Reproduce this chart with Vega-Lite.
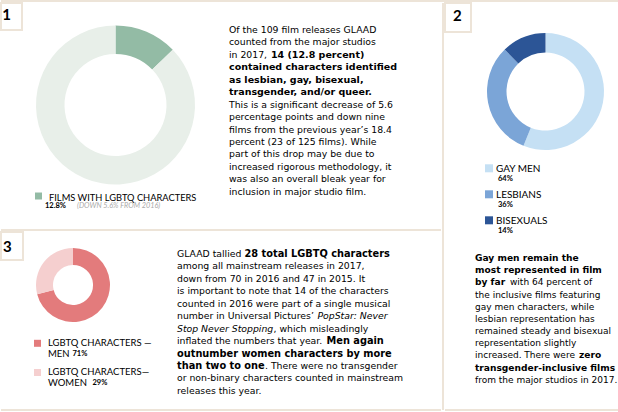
{
  "$schema": "https://vega.github.io/schema/vega-lite/v6.json",
  "padding": 0,
  "background": "white",
  "config": {
    "view": {"stroke": null},
    "concat": {"spacing": 0},
    "style": {
      "tn": {"align": "left", "baseline": "middle", "font": "DejaVu Sans", "fontSize": 9.3, "fill": "#4d4d4d"},
      "tb": {"align": "left", "baseline": "middle", "font": "DejaVu Sans", "fontSize": 9.5, "fontWeight": "bold", "fill": "#161616"},
      "ti": {"align": "left", "baseline": "middle", "font": "DejaVu Sans", "fontSize": 9.3, "fontStyle": "italic", "fill": "#4d4d4d"},
      "lg": {"align": "left", "baseline": "middle", "font": "Lato", "fontSize": 9.3, "fill": "#555555"},
      "lp": {"align": "left", "baseline": "middle", "font": "Lato", "fontSize": 7.5, "fontWeight": "bold", "fill": "#333333"},
      "num": {"align": "center", "baseline": "middle", "font": "Lato", "fontSize": 15, "fontWeight": "bold", "fill": "#8cb59e"}
    }
  },
  "datasets": {
    "d1": [
      {"cat": "FILMS WITH LGBTQ CHARACTERS", "pct": 12.8, "rank": 1, "pctLabel": "12.8%", "note": "(DOWN 5.6% FROM 2016)"},
      {"cat": "OTHER FILMS", "pct": 87.2, "rank": 2, "pctLabel": "87.2%", "note": ""}
    ],
    "d2": [
      {"cat": "GAY MEN", "pct": 64, "rank": 1, "pctLabel": "64%"},
      {"cat": "LESBIANS", "pct": 36, "rank": 2, "pctLabel": "36%"},
      {"cat": "BISEXUALS", "pct": 14, "rank": 3, "pctLabel": "14%"}
    ],
    "d3": [
      {"cat": "LGBTQ CHARACTERS — MEN", "head": "LGBTQ CHARACTERS —", "sub": "MEN", "pct": 71, "rank": 1, "pctLabel": "71%"},
      {"cat": "LGBTQ CHARACTERS — WOMEN", "head": "LGBTQ CHARACTERS—", "sub": "WOMEN", "pct": 29, "rank": 2, "pctLabel": "29%"}
    ],
    "t1": [
      {"ln": 1, "cont": 0, "sty": "n", "txt": "Of the 109 film releases GLAAD"},
      {"ln": 2, "cont": 0, "sty": "n", "txt": "counted from the major studios"},
      {"ln": 3, "cont": 0, "sty": "n", "txt": "in 2017,"},
      {"ln": 3, "cont": 1, "sty": "b", "txt": "14 (12.8 percent)"},
      {"ln": 4, "cont": 0, "sty": "b", "txt": "contained characters identified"},
      {"ln": 5, "cont": 0, "sty": "b", "txt": "as lesbian, gay, bisexual,"},
      {"ln": 6, "cont": 0, "sty": "b", "txt": "transgender, and/or queer."},
      {"ln": 7, "cont": 0, "sty": "n", "txt": "This is a significant decrease of 5.6"},
      {"ln": 8, "cont": 0, "sty": "n", "txt": "percentage points and down nine"},
      {"ln": 9, "cont": 0, "sty": "n", "txt": "films from the previous year’s 18.4"},
      {"ln": 10, "cont": 0, "sty": "n", "txt": "percent (23 of 125 films). While"},
      {"ln": 11, "cont": 0, "sty": "n", "txt": "part of this drop may be due to"},
      {"ln": 12, "cont": 0, "sty": "n", "txt": "increased rigorous methodology, it"},
      {"ln": 13, "cont": 0, "sty": "n", "txt": "was also an overall bleak year for"},
      {"ln": 14, "cont": 0, "sty": "n", "txt": "inclusion in major studio film."}
    ],
    "t3": [
      {"ln": 1, "cont": 0, "sty": "n", "txt": "GLAAD tallied"},
      {"ln": 1, "cont": 1, "sty": "b", "txt": "28 total LGBTQ characters"},
      {"ln": 2, "cont": 0, "sty": "n", "txt": "among all mainstream releases in 2017,"},
      {"ln": 3, "cont": 0, "sty": "n", "txt": "down from 70 in 2016 and 47 in 2015. It"},
      {"ln": 4, "cont": 0, "sty": "n", "txt": "is important to note that 14 of the characters"},
      {"ln": 5, "cont": 0, "sty": "n", "txt": "counted in 2016 were part of a single musical"},
      {"ln": 6, "cont": 0, "sty": "n", "txt": "number in Universal Pictures’"},
      {"ln": 6, "cont": 2, "sty": "i", "txt": "PopStar: Never"},
      {"ln": 7, "cont": 0, "sty": "i", "txt": "Stop Never Stopping"},
      {"ln": 7, "cont": 3, "sty": "n", "txt": ", which misleadingly"},
      {"ln": 8, "cont": 0, "sty": "n", "txt": "inflated the numbers that year."},
      {"ln": 8, "cont": 4, "sty": "b", "txt": "Men again"},
      {"ln": 9, "cont": 0, "sty": "b", "txt": "outnumber women characters by more"},
      {"ln": 10, "cont": 0, "sty": "b", "txt": "than two to one"},
      {"ln": 10, "cont": 5, "sty": "n", "txt": ". There were no transgender"},
      {"ln": 11, "cont": 0, "sty": "n", "txt": "or non-binary characters counted in mainstream"},
      {"ln": 12, "cont": 0, "sty": "n", "txt": "releases this year."}
    ],
    "t2": [
      {"ln": 1, "cont": 0, "sty": "b", "txt": "Gay men remain the"},
      {"ln": 2, "cont": 0, "sty": "b", "txt": "most represented in film"},
      {"ln": 3, "cont": 0, "sty": "b", "txt": "by far"},
      {"ln": 3, "cont": 1, "sty": "n", "txt": "with 64 percent of"},
      {"ln": 4, "cont": 0, "sty": "n", "txt": "the inclusive films featuring"},
      {"ln": 5, "cont": 0, "sty": "n", "txt": "gay men characters, while"},
      {"ln": 6, "cont": 0, "sty": "n", "txt": "lesbian representation has"},
      {"ln": 7, "cont": 0, "sty": "n", "txt": "remained steady and bisexual"},
      {"ln": 8, "cont": 0, "sty": "n", "txt": "representation slightly"},
      {"ln": 9, "cont": 0, "sty": "n", "txt": "increased. There were"},
      {"ln": 9, "cont": 2, "sty": "b", "txt": "zero"},
      {"ln": 10, "cont": 0, "sty": "b", "txt": "transgender-inclusive films"},
      {"ln": 11, "cont": 0, "sty": "n", "txt": "from the major studios in 2017."}
    ]
  },
  "spacing": 0,
  "resolve": {"scale": {"color": "independent", "x": "independent", "y": "independent"}},
  "vconcat": [
    {"width": 618, "height": 2, "view": {"fill": "#ede4d8"}, "data": {"values": []}, "mark": "point"},
    {
      "spacing": 0,
      "resolve": {"scale": {"color": "independent", "x": "independent", "y": "independent"}},
      "hconcat": [
        {
          "spacing": 0,
          "resolve": {"scale": {"color": "independent", "x": "independent", "y": "independent"}},
          "vconcat": [
            {
              "spacing": 0,
              "resolve": {"scale": {"color": "independent", "x": "independent", "y": "independent"}},
              "hconcat": [
                {"width": 21, "height": 27, "view": {"stroke": "#ede4d8", "strokeWidth": 2}, "data": {"values": [{"n": "1"}]}, "mark": {"type": "text", "style": "num", "dx": -5, "dy": -1.5}, "encoding": {"text": {"field": "n"}}},
                {
                  "width": 185, "height": 204,
                  "data": {"name": "d1"},
                  "layer": [
                    {
                      "mark": {"type": "arc", "outerRadius": 79.5, "innerRadius": 51},
                      "encoding": {
                        "theta": {"field": "pct", "type": "quantitative", "stack": true},
                        "order": {"field": "rank"},
                        "color": {"field": "cat", "type": "nominal", "legend": null, "scale": {"domain": ["FILMS WITH LGBTQ CHARACTERS", "OTHER FILMS"], "range": ["#93bba5", "#e8efe9"]}}
                      }
                    },
                    {
                      "transform": [{"filter": "datum.rank == 1"}],
                      "encoding": {"y": {"field": "rank", "type": "quantitative", "axis": null, "scale": {"domain": [0, 1.0488], "reverse": true, "nice": false, "zero": false}}},
                      "layer": [
                        {"mark": {"type": "point", "shape": "square", "filled": true, "size": 49, "opacity": 1, "yOffset": -1.5}, "encoding": {"x": {"value": 15.5}, "color": {"field": "cat", "type": "nominal", "legend": null, "scale": {"domain": ["FILMS WITH LGBTQ CHARACTERS", "OTHER FILMS"], "range": ["#93bba5", "#e8efe9"]}}}},
                        {"mark": {"type": "text", "style": "lg"}, "encoding": {"x": {"value": 26}, "text": {"field": "cat"}}},
                        {"mark": {"type": "text", "style": "lp", "dy": 8.5}, "encoding": {"x": {"value": 22}, "text": {"field": "pctLabel"}}},
                        {"mark": {"type": "text", "style": "lg", "fontSize": 7.3, "fontStyle": "italic", "fill": "#aaaaaa", "dy": 8.5}, "encoding": {"x": {"value": 54}, "text": {"field": "note"}}}
                      ]
                    }
                  ]
                },
                {"width": 21, "height": 1, "data": {"values": []}, "mark": "point"},
                {
                  "width": 213, "height": 226,
                  "data": {"name": "t1"},
                  "encoding": {
                    "x": {"value": 0},
                    "y": {"field": "ln", "type": "quantitative", "axis": null, "scale": {"domain": [-1.1687, 16.984], "reverse": true, "nice": false, "zero": false}},
                    "text": {"field": "txt"}
                  },
                  "layer": [
                    {"transform": [{"filter": "datum.cont == 0 && datum.sty == 'n'"}], "mark": {"type": "text", "style": "tn"}},
                    {"transform": [{"filter": "datum.cont == 0 && datum.sty == 'b'"}], "mark": {"type": "text", "style": "tb"}},
                    {"transform": [{"filter": "datum.cont == 1"}], "mark": {"type": "text", "style": "tb", "dx": 42}}
                  ]
                }
              ]
            },
            {"width": 440, "height": 2, "view": {"fill": "#ede4d8"}, "data": {"values": []}, "mark": "point"},
            {
              "spacing": 0,
              "resolve": {"scale": {"color": "independent", "x": "independent", "y": "independent"}},
              "hconcat": [
                {
                  "spacing": 0,
                  "resolve": {"scale": {"color": "independent", "x": "independent", "y": "independent"}},
                  "vconcat": [
                    {
                      "spacing": 0,
                      "resolve": {"scale": {"color": "independent", "x": "independent", "y": "independent"}},
                      "hconcat": [
                        {"width": 22, "height": 28, "view": {"stroke": "#ede4d8", "strokeWidth": 2}, "data": {"values": [{"n": "3"}]}, "mark": {"type": "text", "style": "num", "dx": -4.7, "dy": 1}, "encoding": {"text": {"field": "n"}}},
                        {
                          "width": 98, "height": 106,
                          "data": {"name": "d3"},
                          "mark": {"type": "arc", "outerRadius": 37, "innerRadius": 20},
                          "encoding": {
                            "theta": {"field": "pct", "type": "quantitative", "stack": true},
                            "order": {"field": "rank"},
                            "color": {"field": "cat", "type": "nominal", "legend": null, "scale": {"domain": ["LGBTQ CHARACTERS — MEN", "LGBTQ CHARACTERS — WOMEN"], "range": ["#e37b7c", "#f5cfcf"]}}
                          }
                        }
                      ]
                    },
                    {
                      "spacing": 0,
                      "resolve": {"scale": {"color": "independent", "x": "independent", "y": "independent"}},
                      "hconcat": [
                        {"width": 33, "height": 1, "data": {"values": []}, "mark": "point"},
                        {
                          "width": 143, "height": 71,
                          "data": {"name": "d3"},
                          "encoding": {
                            "y": {"field": "rank", "type": "quantitative", "axis": null, "scale": {"domain": [0.8185, 3.25], "reverse": true, "nice": false, "zero": false}}
                          },
                          "layer": [
                            {"mark": {"type": "point", "shape": "square", "filled": true, "size": 49, "opacity": 1}, "encoding": {"x": {"value": 3.5}, "color": {"field": "cat", "type": "nominal", "legend": null, "scale": {"domain": ["LGBTQ CHARACTERS — MEN", "LGBTQ CHARACTERS — WOMEN"], "range": ["#e37b7c", "#f5cfcf"]}}}},
                            {"mark": {"type": "text", "style": "lg", "fontSize": 9.5}, "encoding": {"x": {"value": 14}, "text": {"field": "head"}}},
                            {"mark": {"type": "text", "style": "lg", "fontSize": 9.5, "dy": 10.5}, "encoding": {"x": {"value": 14}, "text": {"field": "sub"}}},
                            {"transform": [{"filter": "datum.rank == 1"}], "mark": {"type": "text", "style": "lp", "dy": 10.5}, "encoding": {"x": {"value": 38.5}, "text": {"field": "pctLabel"}}},
                            {"transform": [{"filter": "datum.rank == 2"}], "mark": {"type": "text", "style": "lp", "dy": 10.5}, "encoding": {"x": {"value": 58.5}, "text": {"field": "pctLabel"}}}
                          ]
                        }
                      ]
                    }
                  ]
                },
                {
                  "width": 264, "height": 177,
                  "data": {"name": "t3"},
                  "encoding": {
                    "x": {"value": 0},
                    "y": {"field": "ln", "type": "quantitative", "axis": null, "scale": {"domain": [-0.767, 13.45], "reverse": true, "nice": false, "zero": false}},
                    "text": {"field": "txt"}
                  },
                  "layer": [
                    {"transform": [{"filter": "datum.cont == 0 && datum.sty == 'n'"}], "mark": {"type": "text", "style": "tn"}},
                    {"transform": [{"filter": "datum.cont == 0 && datum.sty == 'b'"}], "mark": {"type": "text", "style": "tb", "fontSize": 9.8}},
                    {"transform": [{"filter": "datum.cont == 0 && datum.sty == 'i'"}], "mark": {"type": "text", "style": "ti"}},
                    {"transform": [{"filter": "datum.cont == 1"}], "mark": {"type": "text", "style": "tb", "fontSize": 9.8, "dx": 67.5}},
                    {"transform": [{"filter": "datum.cont == 2"}], "mark": {"type": "text", "style": "ti", "dx": 140.5}},
                    {"transform": [{"filter": "datum.cont == 3"}], "mark": {"type": "text", "style": "tn", "dx": 96.5}},
                    {"transform": [{"filter": "datum.cont == 4"}], "mark": {"type": "text", "style": "tb", "fontSize": 9.8, "dx": 149.5}},
                    {"transform": [{"filter": "datum.cont == 5"}], "mark": {"type": "text", "style": "tn", "dx": 88}}
                  ]
                }
              ]
            },
            {"width": 440, "height": 2, "view": {"fill": "#ede4d8"}, "data": {"values": []}, "mark": "point"}
          ]
        },
        {"width": 2, "height": 407, "view": {"fill": "#ede4d8"}, "data": {"values": []}, "mark": "point"},
        {
          "spacing": 0,
          "resolve": {"scale": {"color": "independent", "x": "independent", "y": "independent"}},
          "vconcat": [
            {"width": 26, "height": 29, "view": {"stroke": "#ede4d8", "strokeWidth": 2}, "data": {"values": [{"n": "2"}]}, "mark": {"type": "text", "style": "num", "dx": -0.6, "dy": -1.5}, "encoding": {"text": {"field": "n"}}},
            {
              "spacing": 0,
              "resolve": {"scale": {"color": "independent", "x": "independent", "y": "independent"}},
              "hconcat": [
                {"width": 42, "height": 1, "data": {"values": []}, "mark": "point"},
                {
                  "width": 117, "height": 117,
                  "data": {"name": "d2"},
                  "mark": {"type": "arc", "outerRadius": 58.5, "innerRadius": 39},
                  "encoding": {
                    "theta": {"field": "pct", "type": "quantitative", "stack": true},
                    "order": {"field": "rank"},
                    "color": {"field": "cat", "type": "nominal", "legend": null, "scale": {"domain": ["GAY MEN", "LESBIANS", "BISEXUALS"], "range": ["#c5e0f4", "#7ba5d7", "#2c5596"]}}
                  }
                }
              ]
            },
            {
              "spacing": 0,
              "resolve": {"scale": {"color": "independent", "x": "independent", "y": "independent"}},
              "hconcat": [
                {"width": 40, "height": 1, "data": {"values": []}, "mark": "point"},
                {
                  "width": 136, "height": 92,
                  "data": {"name": "d2"},
                  "encoding": {
                    "y": {"field": "rank", "type": "quantitative", "axis": null, "scale": {"domain": [0.2577, 3.796], "reverse": true, "nice": false, "zero": false}}
                  },
                  "layer": [
                    {"mark": {"type": "point", "shape": "square", "filled": true, "size": 64, "opacity": 1, "yOffset": -1}, "encoding": {"x": {"value": 4}, "color": {"field": "cat", "type": "nominal", "legend": null, "scale": {"domain": ["GAY MEN", "LESBIANS", "BISEXUALS"], "range": ["#c5e0f4", "#7ba5d7", "#2c5596"]}}}},
                    {"mark": {"type": "text", "style": "lg", "fontSize": 10}, "encoding": {"x": {"value": 11}, "text": {"field": "cat"}}},
                    {"mark": {"type": "text", "style": "lp", "dy": 9.5}, "encoding": {"x": {"value": 13}, "text": {"field": "pctLabel"}}}
                  ]
                }
              ]
            },
            {
              "spacing": 0,
              "resolve": {"scale": {"color": "independent", "x": "independent", "y": "independent"}},
              "hconcat": [
                {"width": 30, "height": 1, "data": {"values": []}, "mark": "point"},
                {
                  "width": 146, "height": 167,
                  "data": {"name": "t2"},
                  "encoding": {
                    "x": {"value": 0},
                    "y": {"field": "ln", "type": "quantitative", "axis": null, "scale": {"domain": [-0.3147, 13.408], "reverse": true, "nice": false, "zero": false}},
                    "text": {"field": "txt"}
                  },
                  "layer": [
                    {"transform": [{"filter": "datum.cont == 0 && datum.sty == 'n'"}], "mark": {"type": "text", "style": "tn", "fontSize": 9}},
                    {"transform": [{"filter": "datum.cont == 0 && datum.sty == 'b'"}], "mark": {"type": "text", "style": "tb", "fontSize": 9.1}},
                    {"transform": [{"filter": "datum.cont == 1"}], "mark": {"type": "text", "style": "tn", "fontSize": 9, "dx": 35}},
                    {"transform": [{"filter": "datum.cont == 2"}], "mark": {"type": "text", "style": "tb", "fontSize": 9.1, "dx": 104}}
                  ]
                }
              ]
            },
            {"width": 176, "height": 2, "view": {"fill": "#ede4d8"}, "data": {"values": []}, "mark": "point"}
          ]
        }
      ]
    }
  ]
}
